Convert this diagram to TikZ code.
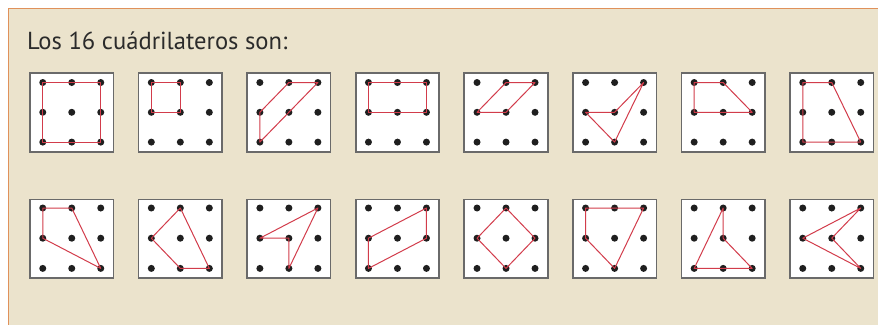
\documentclass[tikz,border=0pt]{standalone}
\usepackage{fontspec}
\setmainfont{PT Sans}
\usetikzlibrary{calc}
\definecolor{beige}{HTML}{EBE3CC}
\definecolor{frameorange}{HTML}{E0915A}
\definecolor{boxgray}{HTML}{6A6A6A}
\definecolor{qred}{HTML}{D23C4B}
\definecolor{titlegray}{HTML}{2B2B2B}
\newcommand\quadpath[5]{\draw[quad] (#1-#2.center) -- (#1-#3.center) -- (#1-#4.center) -- (#1-#5.center) -- cycle;}
\begin{document}
\begin{tikzpicture}[x=1pt,y=-1pt,
  gridbox/.style={draw=boxgray, line width=1.7pt, fill=white, minimum width=83.5pt, minimum height=78.5pt, inner sep=0pt},
  gdot/.style={circle, fill=black!88, inner sep=0pt, minimum size=7pt},
  quad/.style={draw=qred, line width=1pt, line join=round}]
\useasboundingbox (0,0) rectangle (878,325);
\fill[beige] (8.3,8.3) rectangle (878,325);
\draw[frameorange, line width=1.2pt] (878,8.3) -- (8.3,8.3) -- (8.3,325);
\node[anchor=base west, font=\fontsize{24.6}{29}\selectfont, text=titlegray, inner sep=0pt] (title) at (27,49.3) {Los 16 cuádrilateros son:};
\foreach \i in {0,...,7} {
  \pgfmathsetmacro\cx{71.75+108.57*\i}
  \node[gridbox] (t\i) at (\cx,112.5) {};
  \node[gridbox] (b\i) at (\cx,238.8) {};
  \foreach \c in {0,1,2} {
    \foreach \r in {0,1,2} {
      \node[gdot] (t\i-\c\r) at ($(t\i.center)+({\c*29-29},{\r*29.8-30})$) {};
      \node[gdot] (b\i-\c\r) at ($(b\i.center)+({\c*29-29},{\r*30.2-30.8})$) {};
    }
  }
}
\quadpath{t0}{00}{20}{22}{02}
\quadpath{t1}{00}{10}{11}{01}
\quadpath{t2}{10}{20}{02}{01}
\quadpath{t3}{00}{20}{21}{01}
\quadpath{t4}{10}{20}{11}{01}
\quadpath{t5}{01}{11}{20}{12}
\quadpath{t6}{00}{10}{21}{01}
\quadpath{t7}{00}{10}{22}{02}
\quadpath{b0}{00}{10}{22}{01}
\quadpath{b1}{10}{22}{12}{01}
\quadpath{b2}{01}{20}{12}{11}
\quadpath{b3}{20}{21}{02}{01}
\quadpath{b4}{10}{21}{12}{01}
\quadpath{b5}{00}{20}{12}{01}
\quadpath{b6}{10}{11}{22}{02}
\quadpath{b7}{01}{20}{11}{22}
\end{tikzpicture}
\end{document}
